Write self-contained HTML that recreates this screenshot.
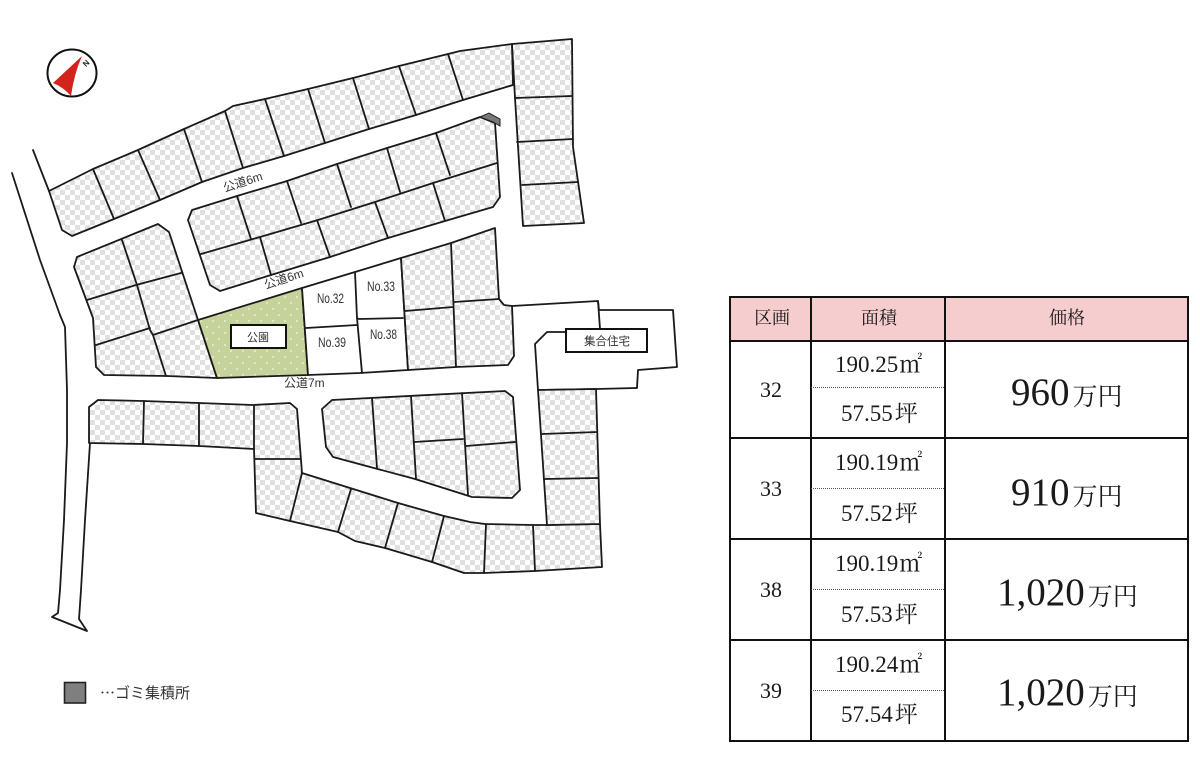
<!DOCTYPE html>
<html lang="ja">
<head>
<meta charset="utf-8">
<title>区画図</title>
<style>
html,body{margin:0;padding:0;background:#fff;width:1200px;height:760px;overflow:hidden}
svg{display:block}
.l{fill:none;stroke:#1a1a1a;stroke-width:1.8;stroke-linejoin:round;stroke-linecap:round}
.c{fill:url(#chk);stroke:#1a1a1a;stroke-width:1.8;stroke-linejoin:round}
.m{font-family:"Liberation Sans","Noto Sans CJK JP",sans-serif;fill:#333;font-size:12px}
.n{font-family:"Liberation Sans",sans-serif;fill:#333;font-size:14px}
.s{font-family:"Liberation Serif","Noto Serif CJK SC",serif;fill:#1a1a1a}
.t{stroke:#111;stroke-width:2;fill:none}
.d{stroke:#555;stroke-width:1;stroke-dasharray:1 1;fill:none}
</style>
</head>
<body>
<svg width="1200" height="760" viewBox="0 0 1200 760" xmlns="http://www.w3.org/2000/svg">
<defs>
<pattern id="chk" width="10" height="10" patternUnits="userSpaceOnUse">
<rect width="10" height="10" fill="#fff"/>
<rect width="5" height="5" fill="#e0e0e0"/>
<rect x="5" y="5" width="5" height="5" fill="#e0e0e0"/>
</pattern>
<pattern id="dots" width="12" height="12" patternUnits="userSpaceOnUse">
<rect width="12" height="12" fill="#c5d39b"/>
<circle cx="3" cy="3" r="0.9" fill="#f4f7e8"/>
<circle cx="9" cy="9" r="0.9" fill="#f4f7e8"/>
</pattern>
</defs>

<!-- compass -->
<ellipse cx="72" cy="73" rx="24.5" ry="23.500" fill="#fff" stroke="#111" stroke-width="2"/>
<path d="M82 56 L53 83 Q63 87 71 96 Q74 74 82 56 Z" fill="#d2231c"/>
<text x="83" y="66" font-family="Liberation Sans,sans-serif" font-size="8" fill="#222" font-weight="bold" transform="rotate(-45 86 63)">N</text>

<!-- roads -->
<polyline class="l" points="33,150 49,191"/>
<polyline class="l" points="12,173 40,260 60,315 65,327 67,390 67,443 64,520 60,590 58,613 52,617 87,631 79,619 81,590 85,520 90,443"/>

<!-- top block -->
<polygon class="c" points="49,191 93,169 138,150 184,129 225,111 233,106 265,99 308,89 353,78 399,66 448,54 460,51 512,44 513,85 463,100 416,115 369,129 325,143 284,156 243,168 202,182 160,200 114,219 72,236 62,230"/>
<path class="l" d="M93 169L114 219M138 150L160 200M184 129L202 182M225 111L243 168M265 99L284 156M308 89L325 143M353 78L369 129M399 66L416 115M448 54L463 100"/>

<!-- right column -->
<polygon class="c" points="512,44 572,39 573,147 584,223 523,226 515,98"/>
<path class="l" d="M515 98L572 96M517 142L573 139M522 185L578 182"/>

<!-- second block -->
<polygon class="c" points="192,210 237,196 287,181 337,164 387,148 436,133 480,117 495,123 500,197 493,207 445,221 388,238 330,257 271,275 220,291 210,285 188,220"/>
<path class="l" d="M201 254L260 237L318 220L375 202L433 183L497 163M237 196L251 239M287 181L301 223M337 164L351 207M387 148L400 192M436 133L450 175M260 237L271 275M317 220L330 257M375 202L388 238M433 183L445 221"/>
<polygon points="480,117 489,113 500,119 500,126 493,122" fill="#7a7a7a" stroke="#222" stroke-width="1"/>

<!-- left block -->
<polygon class="c" points="77,257 158,224 169,232 198,320 217,378 167,376 104,375 96,367 93,318 74,267"/>
<path class="l" d="M122 240L137 285L150 330L153 335L166 376M87 300L136 285L181 273M96 345L150 328M153 335L198 320"/>

<!-- park -->
<polygon points="198,320 302,288 308,375 217,378" fill="url(#dots)" stroke="#1a1a1a" stroke-width="1.800" stroke-linejoin="round"/>
<rect x="231" y="325" width="55" height="23" fill="#fff" stroke="#111" stroke-width="2"/>

<!-- target lots -->
<polygon points="302,288 355,272 401,258 408,370 360,373 308,375" fill="#fff" stroke="#1a1a1a" stroke-width="1.800" stroke-linejoin="round"/>
<path class="l" d="M355 272L357 318L362 373M306 328L357 325M359 319L403 318M357 318L359 319"/>

<!-- right of targets -->
<polygon class="c" points="401,258 451,243 495,228 499,299 504,305 512,306 514,356 508,365 456,367 408,370"/>
<path class="l" d="M451 243L456 367M405 311L453 307M454 302L499 299"/>

<!-- apartment -->
<polyline class="l" points="512,306 598,301 599,310 673,310 677,367 638,370 637,388 596,389 538,390 535,344 547,332 567,332"/>
<polyline class="l" points="598,301 600,329"/>
<rect x="566" y="329" width="81" height="23" fill="#fff" stroke="#111" stroke-width="2"/>

<!-- lower left block -->
<polygon class="c" points="89,407 98,400 144,401 199,403 253,405 290,403 297,409 302,473 350,488 398,503 444,516 470,522 485,524 533,525 547,525 600,524 602,567 535,571 484,573 464,573 432,562 385,548 355,541 338,532 290,521 256,513 254,449 199,446 143,444 89,443"/>
<path class="l" d="M144 401L143 444M199 403L199 446M254 405L254 449M255 459L300 459M302 473L290 521M351 489L338 532M398 503L385 548M444 516L432 562M486 524L484 573M533 525L535 571"/>

<!-- lower right column -->
<polygon class="c" points="538,390 596,389 600,524 547,525"/>
<path class="l" d="M542 434L597 432M545 479L598 478"/>

<!-- inner block -->
<polygon class="c" points="332,400 505,391 513,397 520,490 512,498 472,497 415,479 333,457 326,447 322,409"/>
<path class="l" d="M372 398L377 468M411 396L416 479M462 393L468 495M414 442L463 439M466 446L515 442"/>

<!-- map labels -->
<text class="m" x="222.500" y="186" transform="rotate(-18 243 182)">公道6m</text>
<text class="m" x="263.500" y="283" transform="rotate(-18 284 279)">公道6m</text>
<text class="m" x="284" y="387">公道7m</text>
<text class="m" x="247" y="341" style="font-size:11px">公園</text>
<text class="n" x="317" y="303" textLength="27" lengthAdjust="spacingAndGlyphs">No.32</text>
<text class="n" x="367" y="291" textLength="28" lengthAdjust="spacingAndGlyphs">No.33</text>
<text class="n" x="318" y="347" textLength="28" lengthAdjust="spacingAndGlyphs">No.39</text>
<text class="n" x="370" y="339" textLength="27" lengthAdjust="spacingAndGlyphs">No.38</text>
<text class="m" x="584" y="345" style="font-size:11.500px">集合住宅</text>

<!-- legend -->
<rect x="64.500" y="682.500" width="21" height="20.500" fill="#7f7f7f" stroke="#222" stroke-width="1.600"/>
<text x="100" y="698" font-family="Noto Sans CJK JP,sans-serif" font-size="15" fill="#333">…ゴミ集積所</text>

<!-- table -->
<rect x="730" y="297" width="458" height="44" fill="#f6cdce"/>
<rect class="t" x="730" y="297" width="458" height="444"/>
<path class="t" d="M730 341H1188M730 438H1188M730 539H1188M730 640H1188M811 297V741M945 297V741"/>
<path class="d" d="M811 387.500H945M811 488.500H945M811 589.500H945M811 690.500H945"/>

<g class="s" text-anchor="middle">
<text x="772" y="324" font-size="18">区画</text>
<text x="879" y="324" font-size="18">面積</text>
<text x="1067" y="324" font-size="18">価格</text>
<text x="771" y="397" font-size="22">32</text>
<text x="771" y="496" font-size="22">33</text>
<text x="771" y="597" font-size="22">38</text>
<text x="771" y="698" font-size="22">39</text>
</g>

<g class="s" font-size="23">
<text x="835" y="372">190.25<tspan dx="1">㎡</tspan></text>
<text x="835" y="470">190.19<tspan dx="1">㎡</tspan></text>
<text x="835" y="571">190.19<tspan dx="1">㎡</tspan></text>
<text x="835" y="672">190.24<tspan dx="1">㎡</tspan></text>
<text x="841" y="421">57.55<tspan dx="2">坪</tspan></text>
<text x="841" y="521">57.52<tspan dx="2">坪</tspan></text>
<text x="841" y="622">57.53<tspan dx="2">坪</tspan></text>
<text x="841" y="722">57.54<tspan dx="2">坪</tspan></text>
</g>

<g class="s">
<text x="1011" y="405" font-size="39">960<tspan font-size="25" dx="3">万円</tspan></text>
<text x="1011" y="505" font-size="39">910<tspan font-size="25" dx="3">万円</tspan></text>
<text x="997" y="605" font-size="39">1,020<tspan font-size="25" dx="3">万円</tspan></text>
<text x="997" y="705" font-size="39">1,020<tspan font-size="25" dx="3">万円</tspan></text>
</g>
</svg>
</body>
</html>
